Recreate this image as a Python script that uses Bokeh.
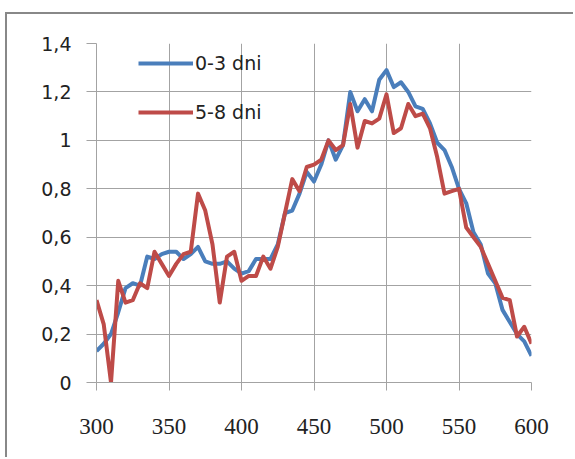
from bokeh.plotting import figure
from bokeh.models import FixedTicker, Legend, LegendItem
from bokeh.embed import file_html
from bokeh.resources import INLINE

# wavelength (nm)
wavelength = [300, 305, 310, 315, 320, 325, 330, 335, 340, 345,
              350, 355, 360, 365, 370, 375, 380, 385, 390, 395,
              400, 405, 410, 415, 420, 425, 430, 435, 440, 445,
              450, 455, 460, 465, 470, 475, 480, 485, 490, 495,
              500, 505, 510, 515, 520, 525, 530, 535, 540, 545,
              550, 555, 560, 565, 570, 575, 580, 585, 590, 595,
              600]

series_0_3 = [0.13, 0.16, 0.20, 0.29, 0.39, 0.41, 0.40, 0.52, 0.51, 0.53,
              0.54, 0.54, 0.51, 0.53, 0.56, 0.50, 0.49, 0.49, 0.50, 0.47,
              0.45, 0.46, 0.51, 0.51, 0.51, 0.57, 0.70, 0.71, 0.78, 0.87,
              0.83, 0.90, 1.00, 0.92, 0.98, 1.20, 1.12, 1.17, 1.12, 1.25,
              1.29, 1.22, 1.24, 1.20, 1.14, 1.13, 1.07, 0.99, 0.96, 0.89,
              0.80, 0.74, 0.62, 0.57, 0.45, 0.41, 0.30, 0.25, 0.20, 0.17,
              0.11]

series_5_8 = [0.34, 0.24, 0.00, 0.42, 0.33, 0.34, 0.41, 0.39, 0.54, 0.49,
              0.44, 0.49, 0.53, 0.54, 0.78, 0.71, 0.57, 0.33, 0.52, 0.54,
              0.42, 0.44, 0.44, 0.52, 0.47, 0.56, 0.70, 0.84, 0.79, 0.89,
              0.90, 0.92, 1.00, 0.96, 0.98, 1.15, 0.97, 1.08, 1.07, 1.09,
              1.19, 1.03, 1.05, 1.15, 1.10, 1.11, 1.05, 0.93, 0.78, 0.79,
              0.80, 0.64, 0.60, 0.56, 0.49, 0.42, 0.35, 0.34, 0.19, 0.23,
              0.16]

series_labels = ["0-3 dni", "5-8 dni"]
x_ticks = [300, 350, 400, 450, 500, 550, 600]
y_ticks = [0, 0.2, 0.4, 0.6, 0.8, 1.0, 1.2, 1.4]
y_tick_labels = ["0", "0,2", "0,4", "0,6", "0,8", "1", "1,2", "1,4"]

BLUE = "#4A7EBB"
RED = "#BE4B48"
GRID = "#a3a3a3"

p = figure(width=568, height=445, x_range=(300, 600), y_range=(0, 1.4),
           output_backend="svg", toolbar_location=None,
           min_border_left=89, min_border_right=44,
           min_border_top=29, min_border_bottom=77)

# chart-area frame: only its left and top edges are visible in the crop
p.styles = {"margin-top": "12px", "margin-left": "5px",
            "border-top": "2px solid #888888", "border-left": "2px solid #888888"}

p.outline_line_color = None
p.background_fill_color = "white"
p.border_fill_color = "white"

r1 = p.line(wavelength, series_0_3, line_color=BLUE, line_width=4, line_join="round")
r2 = p.line(wavelength, series_5_8, line_color=RED, line_width=4, line_join="round")

p.xaxis.ticker = FixedTicker(ticks=x_ticks)
p.yaxis.ticker = FixedTicker(ticks=y_ticks)
p.yaxis.major_label_overrides = {t: l for t, l in zip(y_ticks, y_tick_labels)}

for ax in (p.xaxis, p.yaxis):
    ax.axis_line_color = GRID
    ax.axis_line_width = 1
    ax.major_tick_line_color = GRID
    ax.major_tick_in = 0
    ax.minor_tick_line_color = None

p.yaxis.major_tick_out = 10
p.yaxis.major_label_standoff = 15
p.yaxis.major_label_text_font = "DejaVu Sans"
p.yaxis.major_label_text_font_size = "19px"
p.yaxis.major_label_text_color = "#222222"

p.xaxis.major_tick_out = 8
p.xaxis.major_label_standoff = 28
p.xaxis.major_label_text_font = "Liberation Serif"
p.xaxis.major_label_text_font_size = "23px"
p.xaxis.major_label_text_color = "#222222"

p.xgrid.grid_line_color = GRID
p.ygrid.grid_line_color = GRID
p.xgrid.grid_line_width = 1
p.ygrid.grid_line_width = 1

legend = Legend(items=[LegendItem(label=series_labels[0], renderers=[r1]),
                       LegendItem(label=series_labels[1], renderers=[r2])],
                location=(42, 259), padding=0, margin=0, spacing=27,
                glyph_width=55, glyph_height=20, label_height=20,
                label_standoff=2, border_line_color=None,
                background_fill_alpha=0,
                label_text_font="DejaVu Sans", label_text_font_size="19px",
                label_text_color="#222222")
p.add_layout(legend)

open("out.html", "w").write(file_html(p, INLINE))
